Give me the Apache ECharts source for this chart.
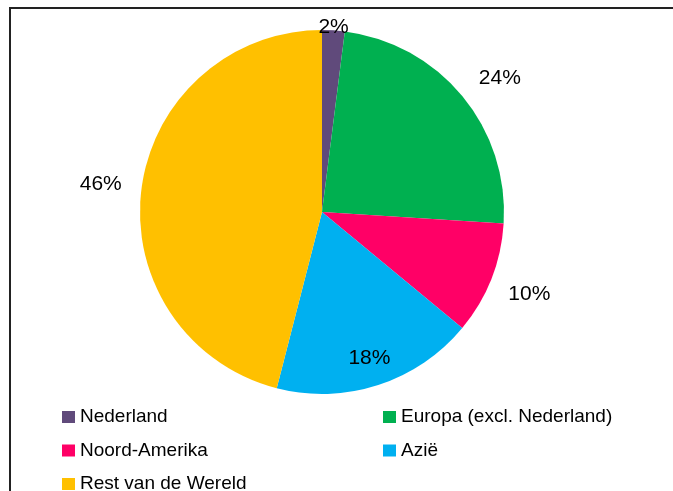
<!DOCTYPE html>
<html>
<head>
<meta charset="utf-8">
<script src="https://cdn.jsdelivr.net/npm/echarts@6/dist/echarts.min.js"></script>
<style>
html,body{margin:0;padding:0;background:#fff;}
#chart{width:673px;height:491px;}
</style>
</head>
<body>
<div id="chart"></div>
<script>
const categories = ['Nederland', 'Europa (excl. Nederland)', 'Noord-Amerika', 'Azië', 'Rest van de Wereld'];
const shares = [2, 24, 10, 18, 46];
const colors = ['#604A7B', '#00B050', '#FF0066', '#00B0F0', '#FFC000'];

const FONT = 'Liberation Sans';
const center = [322, 212];

const mainData = categories.map((n, i) => ({ name: n, value: shares[i], itemStyle: { color: colors[i] } }));

// small per-label nudges (Excel places labels slightly off the mid-angle)
const labelNudge = { 1: [6, 8] };

function labelRing(indices, outerR) {
  return {
    type: 'pie',
    center: center,
    radius: [0, outerR],
    startAngle: 90,
    clockwise: true,
    silent: true,
    avoidLabelOverlap: false,
    animation: false,
    z: 5,
    itemStyle: { color: 'rgba(0,0,0,0)', borderWidth: 0 },
    emphasis: { disabled: true },
    labelLine: { show: false },
    data: categories.map((n, i) => ({
      name: n,
      value: shares[i],
      itemStyle: { color: 'rgba(0,0,0,0)' },
      label: {
        show: indices.indexOf(i) >= 0,
        position: 'inside',
        formatter: '{c}%',
        color: '#000',
        fontSize: 21,
        fontFamily: FONT,
        offset: labelNudge[i] || [0, 0]
      }
    }))
  };
}

// legend grid: two columns, three rows (row-major order)
const legendCols = [62, 383];
const legendRows = [406, 439.5, 473];
const legends = categories.map((n, i) => ({
  orient: 'horizontal',
  icon: 'rect',
  itemWidth: 13,
  itemHeight: 12,
  padding: 0,
  left: legendCols[i % 2],
  top: legendRows[Math.floor(i / 2)],
  selectedMode: false,
  data: [n],
  textStyle: { fontSize: 19, lineHeight: 22, color: '#000', fontFamily: FONT }
}));

const chart = echarts.init(document.getElementById('chart'), null, { renderer: 'canvas' });
chart.setOption({
  animation: false,
  backgroundColor: '#fff',
  graphic: [{
    type: 'rect',
    shape: { x: 10, y: 8, width: 700, height: 520 },
    style: { fill: 'none', stroke: '#222', lineWidth: 2 },
    z: -10
  }],
  legend: legends,
  series: [
    {
      type: 'pie',
      center: center,
      radius: 182,
      startAngle: 90,
      clockwise: true,
      silent: true,
      animation: false,
      label: { show: false },
      labelLine: { show: false },
      emphasis: { disabled: true },
      data: mainData
    },
    labelRing([1, 2, 4], 440),
    labelRing([0], 364),
    labelRing([3], 301)
  ]
});
</script>
</body>
</html>
